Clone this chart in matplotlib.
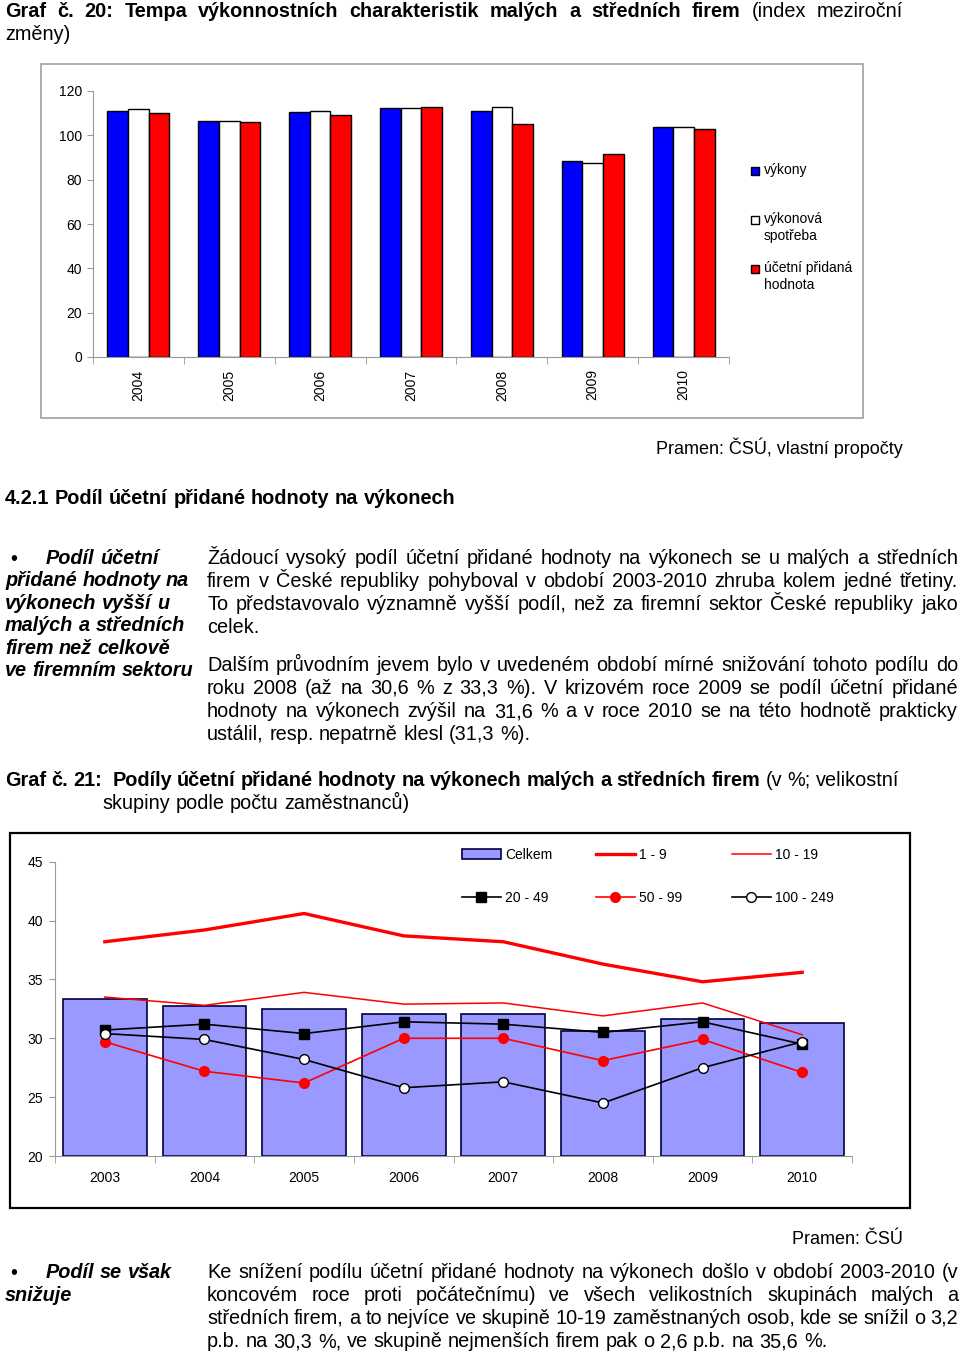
import matplotlib

matplotlib.use("Agg")
import matplotlib.pyplot as plt
from matplotlib.patches import Rectangle

W, H, DPI = 960, 1352, 100
SANS = ["Liberation Sans", "DejaVu Sans"]
FS = 14.3  # body text size

# --- Graf 20 data (index meziroční změny) ---
years1 = ["2004", "2005", "2006", "2007", "2008", "2009", "2010"]
vykony = [111.2, 106.6, 110.6, 112.4, 110.8, 88.5, 103.7]
spotreba = [111.9, 106.6, 111.2, 112.4, 113.0, 87.6, 103.7]
pridana = [109.9, 106.0, 109.1, 112.6, 105.1, 91.8, 102.7]
labels1 = ["výkony", "výkonová\nspotřeba", "účetní přidaná\nhodnota"]

# --- Graf 21 data (v %) ---
years2 = ["2003", "2004", "2005", "2006", "2007", "2008", "2009", "2010"]
celkem = [33.3, 32.7, 32.5, 32.1, 32.1, 30.6, 31.6, 31.3]
g1_9 = [38.2, 39.2, 40.6, 38.7, 38.2, 36.3, 34.8, 35.6]
g10_19 = [33.5, 32.8, 33.9, 32.9, 33.0, 31.9, 33.0, 30.3]
g20_49 = [30.7, 31.2, 30.4, 31.4, 31.2, 30.5, 31.4, 29.5]
g50_99 = [29.7, 27.2, 26.2, 30.0, 30.0, 28.1, 29.9, 27.1]
g100_249 = [30.4, 29.9, 28.2, 25.8, 26.3, 24.5, 27.5, 29.7]

plt.rcParams["font.family"] = SANS
fig = plt.figure(figsize=(W / DPI, H / DPI), dpi=DPI)
fig.patch.set_facecolor("white")


def fx(x):
    return x / W


def fy(y):
    return 1 - y / H


def put_line(parts, x0, y, x1=None, size=FS):
    """parts: list of (text, kwargs). Justify between x0 and x1 if x1 given.
    An empty word (double space) just adds one more gap."""
    words = []
    for txt, kw in parts:
        for w in txt.split(" "):
            words.append(fig.text(fx(x0), fy(y), w, fontsize=size, va="baseline",
                                  ha="left", **kw))
    r = fig.canvas.get_renderer()
    widths = [t.get_window_extent(r).width if t.get_text() else 0 for t in words]
    gap = size * DPI / 72 * 0.28
    if x1 is not None and len(words) > 1:
        gap = (x1 - x0 - sum(widths)) / (len(words) - 1)
    x = x0
    for t, w in zip(words, widths):
        t.set_x(fx(x))
        x += w + gap


B = {"fontweight": "bold"}
N = {}
BI = {"fontweight": "bold", "fontstyle": "italic"}

# ---------- header ----------
put_line([("Graf č. 20: Tempa výkonnostních charakteristik malých a středních firem", B),
          ("(index meziroční", N)], 5, 17, 903)
put_line([("změny)", N)], 5, 40)

# ---------- chart 1 ----------
fig.patches.append(Rectangle((fx(41), fy(418)), (863 - 41) / W, (418 - 64) / H,
                             transform=fig.transFigure, fill=False, ec="#a0a0a0", lw=1.2))
ax1 = fig.add_axes([fx(93), fy(357), (729 - 93) / W, (357 - 91) / H])
x = range(len(years1))
bw = 0.227
bars = [ax1.bar([i - bw for i in x], vykony, bw, color="#0000ff", ec="black", lw=1),
        ax1.bar(list(x), spotreba, bw, color="white", ec="black", lw=1),
        ax1.bar([i + bw for i in x], pridana, bw, color="#ff0000", ec="black", lw=1)]
ax1.set_xlim(-0.5, len(years1) - 0.5)
ax1.set_ylim(0, 120)
ax1.set_yticks(range(0, 121, 20))
ax1.set_xticks(list(x))
ax1.set_xticklabels(years1, rotation=90, fontsize=10)
ax1.set_xticks([i - 0.5 for i in range(len(years1) + 1)], minor=True)
ax1.tick_params(axis="x", which="major", length=0, pad=9)
ax1.tick_params(axis="x", which="minor", length=5, color="#999999")
ax1.tick_params(axis="y", length=4, color="#999999", labelsize=10, pad=4)
for s in ["top", "right"]:
    ax1.spines[s].set_visible(False)
for s in ["left", "bottom"]:
    ax1.spines[s].set_color("#999999")

# legend of chart 1 (Excel style: square aligned with the first line)
for bc, lab, yc in zip(bars, labels1, [171, 220, 269]):
    fig.patches.append(Rectangle((fx(751), fy(yc + 4)), 8 / W, 8 / H, transform=fig.transFigure,
                                 fc=bc.patches[0].get_facecolor(), ec="black", lw=1))
    fig.text(fx(764), fy(yc - 8), lab, fontsize=10, va="top", ha="left", linespacing=1.3)

fig.text(fx(903), fy(454), "Pramen: ČSÚ, vlastní propočty", fontsize=13, ha="right",
         va="baseline")

put_line([("4.2.1 Podíl účetní přidané hodnoty na výkonech", B)], 5, 504)

# ---------- side notes & paragraph 1/2 ----------
fig.text(fx(10), fy(565), "•", fontsize=FS, va="baseline")
side1 = ["Podíl účetní", "přidané hodnoty na", "výkonech vyšší u",
         "malých a středních", "firem než celkově", "ve firemním sektoru"]
for k, s in enumerate(side1):
    put_line([(s, BI)], 46 if k == 0 else 5, 564 + k * 22.4)

par1 = ["Žádoucí vysoký podíl účetní přidané hodnoty na výkonech se u malých a středních",
        "firem v České republiky pohyboval v období 2003-2010 zhruba kolem jedné třetiny.",
        "To představovalo významně vyšší podíl, než za firemní sektor České republiky jako",
        "celek."]
par2 = ["Dalším průvodním jevem bylo v uvedeném období mírné snižování tohoto podílu do",
        "roku 2008 (až na 30,6 % z 33,3 %). V krizovém roce 2009 se podíl účetní přidané",
        "hodnoty na výkonech zvýšil na 31,6 % a v roce 2010 se na této hodnotě prakticky",
        "ustálil, resp. nepatrně klesl (31,3 %)."]
for k, s in enumerate(par1):
    put_line([(s, N)], 207, 564 + k * 23, 958 if k < len(par1) - 1 else None)
for k, s in enumerate(par2):
    put_line([(s, N)], 207, 671 + k * 23, 958 if k < len(par2) - 1 else None)

# ---------- caption graf 21 ----------
put_line([("Graf č. 21:  Podíly účetní přidané hodnoty na výkonech malých a středních firem", B),
          ("(v %; velikostní", N)], 5, 786, 899)
put_line([("skupiny podle počtu zaměstnanců)", N)], 102, 809)

# ---------- chart 2 ----------
fig.patches.append(Rectangle((fx(10), fy(1208)), (910 - 10) / W, (1208 - 833) / H,
                             transform=fig.transFigure, fill=False, ec="black", lw=1.6))
ax2 = fig.add_axes([fx(55), fy(1156), (852 - 55) / W, (1156 - 861.7) / H])
x2 = list(range(len(years2)))
ax2.bar(x2, [v - 20 for v in celkem], 0.84, bottom=20, color="#9999ff", ec="#000040", lw=1.2,
        label="Celkem", zorder=1)
ax2.plot(x2, g1_9, color="#ff0000", lw=2.4, label="1 - 9", zorder=3)
ax2.plot(x2, g10_19, color="#ff0000", lw=1.1, label="10 - 19", zorder=3)
ax2.plot(x2, g20_49, color="black", lw=1.2, marker="s", ms=6.5, label="20 - 49", zorder=4)
ax2.plot(x2, g50_99, color="#ff0000", lw=1.2, marker="o", ms=7, mfc="#ff0000",
         mec="#ff0000", label="50 - 99", zorder=4)
ax2.plot(x2, g100_249, color="black", lw=1.2, marker="o", ms=7, mfc="white", mec="black",
         label="100 - 249", zorder=5)
ax2.set_xlim(-0.5, len(years2) - 0.5)
ax2.set_ylim(20, 45)
ax2.set_yticks(range(20, 46, 5))
ax2.set_xticks(x2)
ax2.set_xticklabels(years2, fontsize=10)
ax2.set_xticks([i - 0.5 for i in range(len(years2) + 1)], minor=True)
ax2.tick_params(axis="x", which="major", length=0, pad=11)
ax2.tick_params(axis="x", which="minor", length=5, color="#999999")
ax2.tick_params(axis="y", length=4, color="#999999", labelsize=10, pad=4.5)
for s in ["top", "right"]:
    ax2.spines[s].set_visible(False)
for s in ["left", "bottom"]:
    ax2.spines[s].set_color("#999999")

# legend: three fixed-width columns like Excel
h, l = ax2.get_legend_handles_labels()
cols = [["Celkem", "20 - 49"], ["1 - 9", "50 - 99"], ["10 - 19", "100 - 249"]]
for k, (names, xl) in enumerate(zip(cols, [462, 596, 732])):
    idx = [l.index(n) for n in names]
    leg = ax2.legend([h[i] for i in idx], [l[i] for i in idx], loc="upper left",
                     bbox_to_anchor=(fx(xl), fy(848)), bbox_transform=fig.transFigure,
                     frameon=False, fontsize=10, handlelength=2.8, handletextpad=0.3,
                     labelspacing=2.1, borderpad=0, borderaxespad=0)
    if k < len(cols) - 1:
        ax2.add_artist(leg)  # the last one stays as ax2.legend_

fig.text(fx(903), fy(1244), "Pramen: ČSÚ", fontsize=13, ha="right", va="baseline")

# ---------- bottom note & paragraph 3 ----------
fig.text(fx(10), fy(1279), "•", fontsize=FS, va="baseline")
put_line([("Podíl se však", BI)], 46, 1278)
put_line([("snižuje", BI)], 5, 1301)
par3 = ["Ke snížení podílu účetní přidané hodnoty na výkonech došlo v období 2003-2010 (v",
        "koncovém roce proti počátečnímu) ve všech velikostních skupinách malých a",
        "středních firem, a to nejvíce ve skupině 10-19 zaměstnaných osob, kde se snížil o 3,2",
        "p.b. na 30,3 %, ve skupině nejmenších firem pak o 2,6 p.b. na 35,6 %."]
for k, s in enumerate(par3):
    put_line([(s, N)], 207, 1278 + k * 23, 958 if k < len(par3) - 1 else None)

fig.savefig("out.png", dpi=DPI)
